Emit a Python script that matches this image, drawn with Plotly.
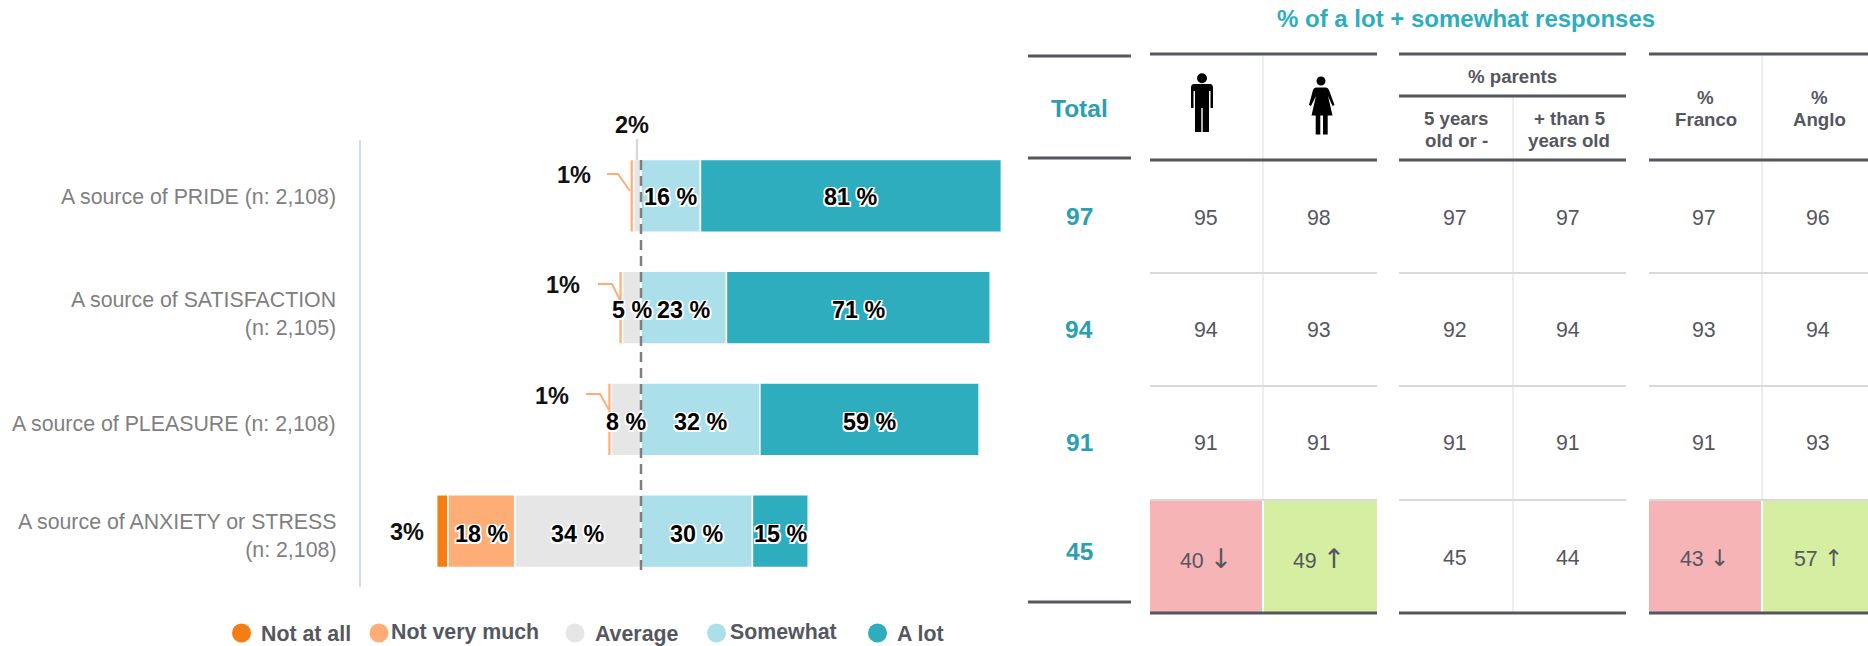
import plotly.graph_objects as go

FONT = "Liberation Sans"
categories = ["A source of PRIDE (n: 2,108)", "A source of SATISFACTION<br>(n: 2,105)",
              "A source of PLEASURE (n: 2,108)", "A source of ANXIETY or STRESS<br>(n: 2,108)"]
not_at_all = [0, 0, 0, 3]
not_very_much = [1, 1, 1, 18]
average = [2, 5, 8, 34]
somewhat = [16, 23, 32, 30]
a_lot = [81, 71, 59, 15]

legend_names = ["Not at all", "Not very much", "Average", "Somewhat", "A lot"]
colors = ["#f57d14", "#ffad77", "#e6e6e6", "#abdfe9", "#2eadbe"]

total = [97, 94, 91, 45]
men = [95, 94, 91, 40]
women = [98, 93, 91, 49]
parents_young = [97, 92, 91, 45]
parents_old = [97, 94, 91, 44]
franco = [97, 93, 91, 43]
anglo = [96, 94, 93, 57]
arrows = {(1206, 3): "↓", (1319, 3): "↑", (1704, 3): "↓", (1818, 3): "↑"}

W, H = 1868, 646
DARK = "#55575f"
TEAL = "#2b9fb0"
HALO = ("-1.5px -1.5px 0 #fff,1.5px -1.5px 0 #fff,-1.5px 1.5px 0 #fff,1.5px 1.5px 0 #fff,"
        "0 1.5px 0 #fff,0 -1.5px 0 #fff,1.5px 0 0 #fff,-1.5px 0 0 #fff")

X0, PXP = 641, 3.715
PLOT_L, PLOT_R, PLOT_T, PLOT_B = 361, 1002, 140, 587

fig = go.Figure()


def bar(name, vals, color, sign):
    fig.add_trace(go.Bar(
        y=categories, x=[sign * v for v in vals], name=name, orientation="h", width=0.65,
        marker=dict(color=color, line=dict(color="#ffffff", width=1.5)),
        cliponaxis=False, showlegend=False, hoverinfo="skip"))


bar("Average", average, colors[2], -1)
bar("Not very much", not_very_much, colors[1], -1)
bar("Not at all", not_at_all, colors[0], -1)
bar("Somewhat", somewhat, colors[3], 1)
bar("A lot", a_lot, colors[4], 1)

# legend dots, on a full-page pixel axis
fig.add_trace(go.Scatter(
    x=[241.5, 379, 575, 716.5, 877.5], y=[633, 633, 633, 633, 633], mode="markers",
    marker=dict(size=19, color=colors, line=dict(width=0)), xaxis="x2", yaxis="y2",
    showlegend=False, hoverinfo="skip"))

ann = []

# segment value labels sit above every bar, because they spill over neighbouring segments
row_shift = [-1, -2.5, -2.5, -3]
for i, c in enumerate(categories):
    segs = []
    left = 0
    for col in (average, not_very_much, not_at_all):
        if col[i] >= 5:
            segs.append((-(left + col[i] / 2), col[i]))
        left += col[i]
    right = 0
    for col in (somewhat, a_lot):
        segs.append((right + col[i] / 2, col[i]))
        right += col[i]
    for mid, v in segs:
        ann.append(dict(x=mid, y=c, xref="x", yref="y", text=f"{v} %", showarrow=False, yshift=row_shift[i],
                        xanchor="center", yanchor="middle",
                        font=dict(family=FONT, size=23.3, color="#000000", weight="bold", shadow=HALO)))


def text(x, y, s, size=20, color=DARK, bold=False, anchor="center", align=None):
    font = dict(family=FONT, size=size, color=color, weight="bold" if bold else "normal")
    ann.append(dict(x=x, y=y, xref="x2", yref="y2", text=s, showarrow=False, xanchor=anchor,
                    yanchor="middle", font=font, borderpad=0, align=align or "center"))


shapes = []


def line(x0, y0, x1, y1, color=DARK, width=3, dash=None):
    shapes.append(dict(type="line", x0=x0, y0=y0, x1=x1, y1=y1, xref="x2", yref="y2", layer="above",
                       line=dict(color=color, width=width, dash=dash or "solid")))


def rect(x0, y0, x1, y1, color):
    shapes.append(dict(type="rect", x0=x0, y0=y0, x1=x1, y1=y1, xref="x2", yref="y2", layer="below",
                       fillcolor=color, line=dict(width=0)))


def path(d, color="#000000"):
    shapes.append(dict(type="path", path=d, xref="x2", yref="y2", layer="above",
                       fillcolor=color, line=dict(width=0)))


def circle(cx, cy, r):
    shapes.append(dict(type="circle", x0=cx - r, x1=cx + r, y0=cy - r, y1=cy + r, xref="x2", yref="y2",
                       layer="above", fillcolor="#000000", line=dict(width=0)))


# category labels
for c, y in zip(categories, [197, 313.5, 424, 535.5]):
    text(337, y, c, 21.33, "#7f7f7f", False, "right", "right")

# callouts
line(X0, 160, X0, 572, "#7f7f7f", 2.5, "10px,6px")
line(637, 139, 637, 160, "#d9d9d9", 2.5)
text(632, 124.5, "2%", 23.5, "#111111", True)
text(574, 175, "1%", 23.5, "#111111", True)
text(562.5, 285, "1%", 23.5, "#111111", True)
text(551.5, 395.5, "1%", 23.5, "#111111", True)
text(407, 532, "3%", 23.5, "#111111", True)
for pts in ([(607, 174), (618, 174), (630, 191)], [(598, 284), (612, 284), (620, 300)], [(586, 394), (600, 394), (609, 410)]):
    d = "M" + " L".join(f"{a},{b}" for a, b in pts)
    shapes.append(dict(type="path", path=d, xref="x2", yref="y2", layer="above",
                       line=dict(color=colors[1], width=2)))

# legend labels
for x, y, s in zip([260, 390, 594, 729, 896], [634, 632, 634, 632, 634], legend_names):
    text(x, y, s, 21.33, DARK, True, "left")

# table
text(1466, 18, "% of a lot + somewhat responses", 24, "#2eadbe", True)
rect(1150, 500, 1262, 613, "#f7b4b6")
rect(1264, 500, 1377, 613, "#d6eea1")
rect(1649, 500, 1761, 613, "#f7b4b6")
rect(1763, 500, 1868, 613, "#d6eea1")
for x in (1263, 1513, 1762):
    line(x, 56 if x != 1513 else 96, x, 500 if x != 1513 else 613, "#eceef0", 2)
groups = [(1150, 1377), (1399, 1626), (1649, 1868)]
for a, b in groups:
    line(a, 273, b, 273, "#d9d9d9", 2)
    line(a, 386, b, 386, "#d9d9d9", 2)
    line(a, 500, b, 500, "#d9d9d9", 2)
    line(a, 54, b, 54)
    line(a, 160, b, 160)
    line(a, 613, b, 613)
line(1028, 56, 1131, 56)
line(1028, 158, 1131, 158)
line(1028, 602, 1131, 602)
line(1399, 96, 1626, 96)

text(1079, 108, "Total", 24.5, TEAL, True)
text(1512, 76, "% parents", 18.67, DARK, True)
for x, lines_, ys in [(1456, ["5 years", "old or -"], (118, 140)), (1569, ["+ than 5", "years old"], (118, 140)),
                      (1705.5, ["%", "Franco"], (97, 119)), (1819, ["%", "Anglo"], (97, 119))]:
    for s, y in zip(lines_, ys):
        text(x, y, s, 18.67, DARK, True)

total_y = [216, 329, 442, 551]
row_y = [218, 330, 443, 558]
for v, y in zip(total, total_y):
    text(1079, y, str(v), 24.5, TEAL, True)
for x, col in zip([1206, 1319, 1455, 1568, 1704, 1818], [men, women, parents_young, parents_old, franco, anglo]):
    for i, v in enumerate(col):
        s = str(v)
        if (x, i) in arrows:
            big = 27 if x < 1400 else 23
            s += f' <span style="font-family:DejaVu Sans;font-size:{big}px">{arrows[(x, i)]}</span>'
        text(x, row_y[i], s, 21.33, DARK)

# pictograms
circle(1202, 78.3, 5)
path("M1194,84 L1210,84 Q1213,84 1213,88 L1213,108 L1210.5,108 L1210.5,91 L1209,91 L1209,132 L1202.7,132 "
     "L1202.7,108 L1201.3,108 L1201.3,132 L1195,132 L1195,91 L1193.5,91 L1193.5,108 L1191,108 L1191,88 Q1191,84 1194,84 Z")
circle(1321, 81, 4.5)
path("M1316,87.5 L1326,87.5 Q1328,87.5 1329,90 L1334.5,105 L1332.5,106 L1328,96 L1332.5,115.5 L1327.7,115.5 "
     "L1327.7,134.5 L1323,134.5 L1323,115.5 L1320.3,115.5 L1320.3,134.5 L1315.7,134.5 L1315.7,115.5 L1311.5,115.5 "
     "L1316,96 L1311,106 L1309,105 L1313,90 Q1314,87.5 1316,87.5 Z")

fig.update_layout(
    width=W, height=H, margin=dict(l=0, r=0, t=0, b=0, autoexpand=False), barmode="relative", bargap=0.35,
    plot_bgcolor="rgba(0,0,0,0)", paper_bgcolor="#ffffff", showlegend=False,
    font=dict(family=FONT),
    annotations=ann, shapes=shapes,
    xaxis=dict(domain=[PLOT_L / W, PLOT_R / W], range=[(PLOT_L - X0) / PXP, (PLOT_R - X0) / PXP], visible=False, fixedrange=True),
    yaxis=dict(domain=[1 - PLOT_B / H, 1 - PLOT_T / H], type="category", categoryorder="array", categoryarray=categories,
               autorange="reversed", showline=True, linecolor="#d5daee", linewidth=2, showgrid=False,
               showticklabels=False, ticks="", zeroline=False, anchor="x", fixedrange=True),
    xaxis2=dict(domain=[0, 1], range=[0, W], visible=False, anchor="y2", fixedrange=True),
    yaxis2=dict(domain=[0, 1], range=[H, 0], visible=False, anchor="x2", fixedrange=True),
)

fig.write_html("out.html", config=dict(displayModeBar=False),
               post_script="document.body.style.margin='0';document.body.style.overflow='hidden';")
